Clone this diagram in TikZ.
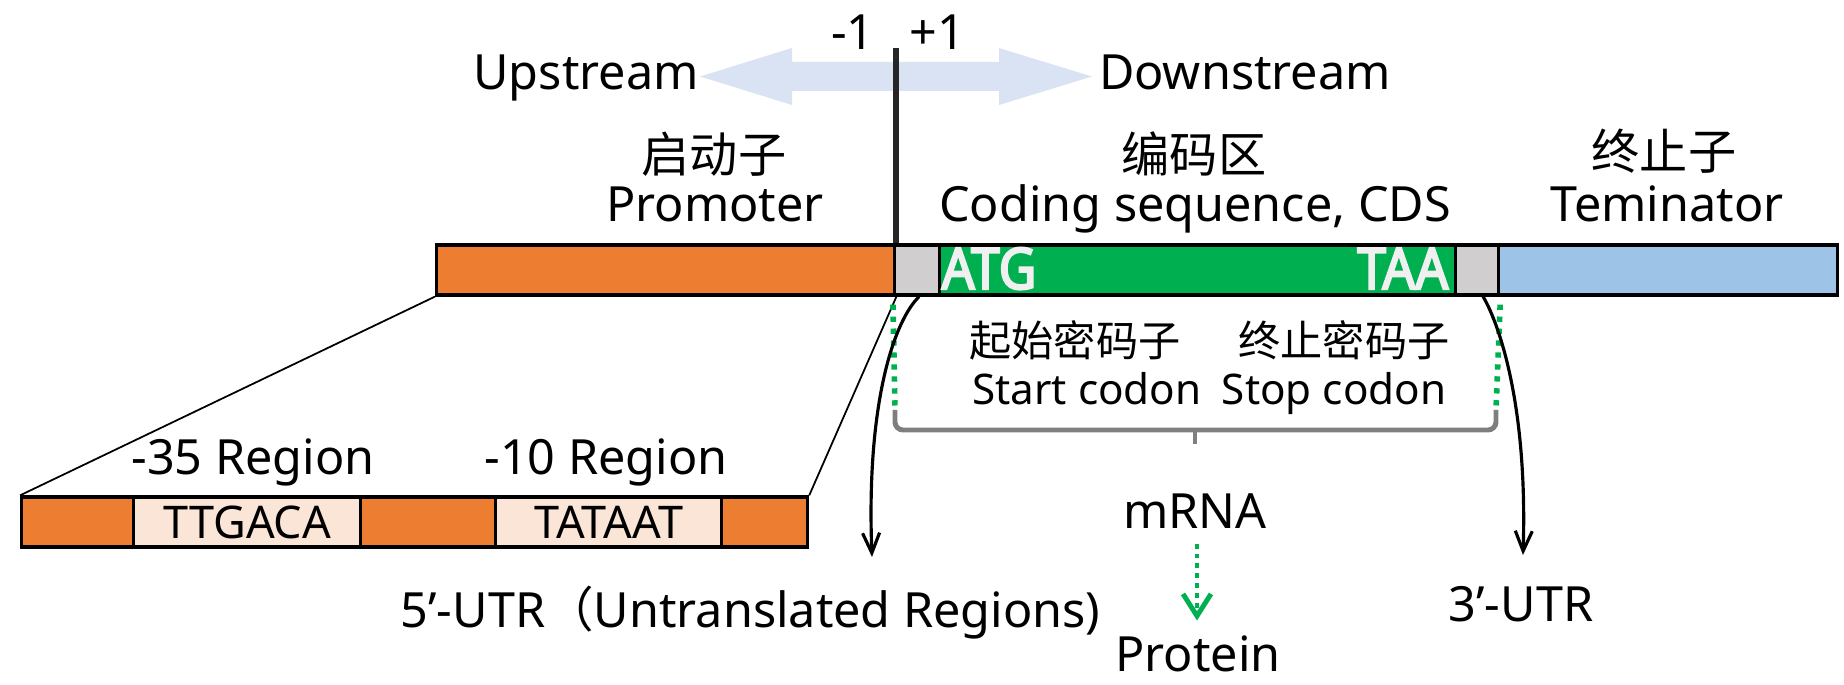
\documentclass[tikz,border=0pt]{standalone}
\usepackage{fontspec}
\setmainfont{Noto Sans}
\newfontfamily\cjk{Noto Sans CJK SC}
\newfontfamily\codonfont{Noto Sans}[FakeBold=3.5,FakeStretch=0.9]
\usetikzlibrary{arrows.meta,positioning}
\definecolor{prorange}{HTML}{ED7D31}
\definecolor{boxpale}{HTML}{FBE5D6}
\definecolor{cdsgreen}{HTML}{00B050}
\definecolor{utrgray}{HTML}{D0CECE}
\definecolor{termblue}{HTML}{9DC3E6}
\definecolor{dirblue}{HTML}{DAE3F3}
\definecolor{brkgray}{HTML}{7F7F7F}
\definecolor{codonwhite}{HTML}{F0F0F0}
\definecolor{tssline}{HTML}{262626}

\tikzset{
  seg/.style={draw=black,line width=0.9pt,inner sep=0pt,minimum height=0.5cm,anchor=west},
  big/.style={inner sep=0pt,anchor=base,font=\fontsize{13.8}{16}\selectfont},
  mid/.style={inner sep=0pt,anchor=base,font=\fontsize{12}{14}\selectfont},
  zh/.style={inner sep=0pt,font=\cjk\fontsize{13.7}{16}\selectfont},
  zhs/.style={inner sep=0pt,font=\cjk\fontsize{12}{14}\selectfont},
  codon/.style={inner sep=0pt,text=codonwhite,font=\codonfont\fontsize{16.3}{17}\selectfont},
  curv/.style={line width=0.9pt,-{Straight Barb[length=0.2cm,width=0.17cm]}},
  gdots/.style={cdsgreen,line width=1.6pt,dash pattern=on 1.5pt off 1.9pt},
  brk/.style={brkgray,line width=1.4pt},
}

\begin{document}
\begin{tikzpicture}[x=0.01cm,y=-0.01cm]
\useasboundingbox (0,0) rectangle (1844,685);

% direction arrow
\fill[dirblue] (700,76.5) -- (792,48) -- (792,62) -- (999,62) -- (999,48) -- (1092,76.5)
  -- (999,105) -- (999,91) -- (792,91) -- (792,105) -- cycle;

% gene bar
\foreach \n/\xa/\w/\col in {prom/435/4.58/prorange, utr5/893/0.45/utrgray, cds/938/5.16/cdsgreen,
    utr3/1454/0.43/utrgray, term/1497/3.39/termblue}
  \node[seg,fill=\col,minimum width=\w cm] (\n) at (\xa,270) {};

% promoter detail
\foreach \n/\xa/\w/\col/\txt in {r1/20/1.12/prorange/{}, r2/132/2.27/boxpale/TTGACA,
    r3/359/1.35/prorange/{}, r4/494/2.26/boxpale/TATAAT, r5/720/0.86/prorange/{}}
  \node[seg,fill=\col,minimum width=\w cm,font=\fontsize{12.8}{14}\selectfont] (\n) at (\xa,522) {\txt};
\draw[line width=0.5pt] (prom.south west) -- (r1.north west);
\draw[line width=0.5pt] (prom.south east) -- (r5.north east);

\coordinate (tss) at (896,48);
\draw[tssline,line width=1.7pt] (tss) -- (tss |- utr5.north);

\node[big] (minus) at (853,50) {-1};
\node[big] (plus) at (937,50) {+1};
\node[big] (up) at (586,90) {Upstream};
\node[big] (down) at (1245,90) {Downstream};

\node[zh] (promzh) at (714,154) {启动子};
\node[big] (promen) at (715,222) {Promoter};
\node[zh] (cdszh) at (1194,154) {编码区};
\node[big] (cdsen) at (1195,222) {Coding sequence, CDS};
\node[zh] (termzh) at (1664,151) {终止子};
\node[big] (termen) at (1667,222) {Teminator};

\node[codon,anchor=base west] (atg) at (941,289) {ATG};
\node[codon,anchor=base east] (taa) at (1449,289) {TAA};

\node[zhs] (startzh) at (1075,340) {起始密码子};
\node[zhs] (stopzh) at (1344,340) {终止密码子};
\node[mid] (starten) at (1087,405) {Start codon};
\node[mid] (stopen) at (1334,405) {Stop codon};

% mRNA bracket
\coordinate (bl) at (895,410);
\coordinate (br) at (1496,410);
\coordinate (btick) at (1195,444);
\draw[gdots] ([yshift=-0.08cm]utr5.south west) -- (bl);
\draw[gdots] ([yshift=-0.08cm]utr3.south east) -- (br);
\draw[brk,rounded corners=0.08cm] (bl) -- ++(0,20) -| (br);
\draw[brk] (btick) -- ++(0,-14);

\node[big] (m35) at (253,475) {-35 Region};
\node[big] (m10) at (606,475) {-10 Region};

\coordinate (u5end) at (872,557);
\coordinate (u3end) at (1523,555);
\draw[curv] ([xshift=0.02cm]utr5.south) .. controls (895,320) and (866,400) .. (u5end);
\draw[curv] ([xshift=0.06cm]utr3.south) .. controls (1497,320) and (1528,400) .. (u3end);

\node[big,anchor=base west] (utr5lbl) at (400,627) {5’-UTR{\cjk （}Untranslated Regions)};
\node[big] (utr3lbl) at (1521,622) {3’-UTR};

\node[big] (mrna) at (1195,528) {mRNA};
\node[big] (prot) at (1198,672) {Protein};
\draw[gdots,line width=1.4pt,dash pattern=on 1.4pt off 1.4pt,
  -{Straight Barb[length=0.22cm,width=0.28cm,line width=1.4pt]},shorten <=0.15cm,shorten >=0.15cm]
  (mrna.south -| 1197,0) -- (prot.north -| 1197,0);
\end{tikzpicture}
\end{document}
